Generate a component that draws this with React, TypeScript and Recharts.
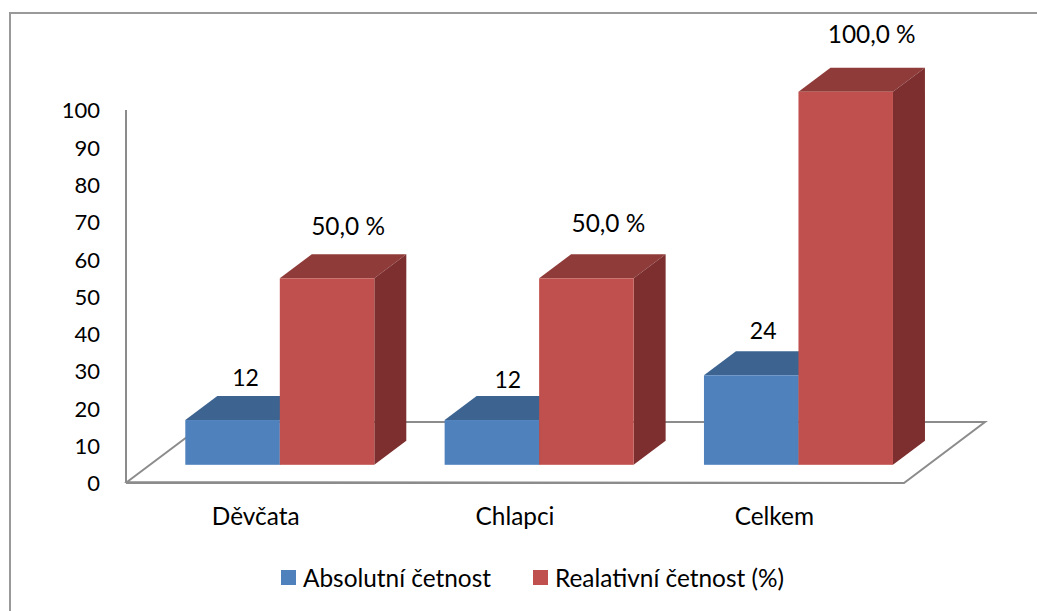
import { BarChart, Bar, XAxis, YAxis, Legend, LabelList, Customized } from 'recharts';

const categories = ['Děvčata', 'Chlapci', 'Celkem'];
const absolute = [12, 12, 24];
const relative = [50, 50, 100];
const yTicks = [0, 10, 20, 30, 40, 50, 60, 70, 80, 90, 100];

const chartData = categories.map((name, i) => ({ name, absolute: absolute[i], relative: relative[i] }));

const FONT = 'Lato, sans-serif';
const TICK_SIZE = 22;
const TEXT_SIZE = 24.4;
const GREY = '#8c8c8c';

// fake 3D: depth of the boxes and how far the front face sits from the axes
const DEPTH_X = 32;
const DEPTH_Y = 24;
const SHIFT_X = 24.3;
const SHIFT_Y = -18.2;

// label offsets from the top centre of each front face
const blueLabelOffset = [[13, -43], [16, -41], [12, -45]];
const redLabelOffset = [[21, -53], [22, -56], [26, -58]];

const faces: Record<string, { top: string; side: string }> = {
    '#4F81BD': { top: '#3D6491', side: '#2F4E72' },
    '#C0504D': { top: '#8F3B39', side: '#7C2F2E' },
};

const Box3D = ({ x, y, width, height, fill }: any) => {
    const left = x + SHIFT_X;
    const right = left + width;
    const top = y + SHIFT_Y;
    const bottom = top + height;
    const { top: topFill, side } = faces[fill];
    return (
        <g>
            <polygon
                points={`${left},${top} ${left + DEPTH_X},${top - DEPTH_Y} ${right + DEPTH_X},${top - DEPTH_Y} ${right},${top}`}
                fill={topFill}
            />
            <polygon
                points={`${right},${top} ${right + DEPTH_X},${top - DEPTH_Y} ${right + DEPTH_X},${bottom - DEPTH_Y} ${right},${bottom}`}
                fill={side}
            />
            <rect x={left} y={top} width={width} height={height} fill={fill} />
        </g>
    );
};

const Frame = () => (
    <g>
        <path d="M10 611 L10 13 L1037 13" fill="none" stroke="#999999" strokeWidth={2} />
        <polygon points="127,482 207,422 985,422 904,483" fill="#fff" stroke={GREY} strokeWidth={2} />
    </g>
);

const makeLabel = (offsets: number[][], size: number, format: (v: number) => string) => (props: any) => {
    const { x, y, width, value, index } = props;
    const [dx, dy] = offsets[index];
    return (
        <text
            x={x + width / 2 + SHIFT_X + dx}
            y={y + SHIFT_Y + dy}
            textAnchor="middle"
            dominantBaseline="central"
            fontFamily={FONT}
            fontSize={size}
            fill="#000"
        >
            {format(value)}
        </text>
    );
};

const LegendContent = ({ payload }: any) => (
    <div style={{ display: 'flex', justifyContent: 'center', gap: 42, fontFamily: FONT, fontSize: TEXT_SIZE, color: '#000' }}>
        {payload.map((entry: any) => (
            <div key={entry.value} style={{ display: 'flex', alignItems: 'center', gap: 7 }}>
                <span style={{ width: 15, height: 15, background: entry.color, display: 'inline-block' }} />
                {entry.value}
            </div>
        ))}
    </div>
);

export default function App() {
    return (
        <div style={{ position: 'absolute', left: 0, top: 0 }}>
            <BarChart
                width={1037}
                height={611}
                data={chartData}
                margin={{ top: 110, right: 133, bottom: 68, left: 0 }}
                barGap={0}
                barSize={94.5}
            >
                <Customized component={Frame} />
                <XAxis
                    dataKey="name"
                    height={60}
                    tickLine={false}
                    tickMargin={19}
                    axisLine={{ stroke: GREY, strokeWidth: 2 }}
                    tick={{ fill: '#000', fontFamily: FONT, fontSize: TEXT_SIZE }}
                />
                <YAxis
                    width={126}
                    domain={[0, 100]}
                    ticks={yTicks}
                    interval={0}
                    tickLine={false}
                    tickSize={0}
                    tickMargin={26}
                    axisLine={{ stroke: GREY, strokeWidth: 2 }}
                    tick={{ fill: '#000', fontFamily: FONT, fontSize: TICK_SIZE, dy: 0.5 }}
                />
                <Legend
                    layout="horizontal"
                    verticalAlign="middle"
                    align="center"
                    wrapperStyle={{ top: 563, left: 14, width: 1037 }}
                    content={LegendContent}
                />
                <Bar dataKey="absolute" name="Absolutní četnost" fill="#4F81BD" shape={Box3D} isAnimationActive={false}>
                    <LabelList dataKey="absolute" content={makeLabel(blueLabelOffset, 23, (v) => String(v))} />
                </Bar>
                <Bar dataKey="relative" name="Realativní četnost (%)" fill="#C0504D" shape={Box3D} isAnimationActive={false}>
                    <LabelList dataKey="relative" content={makeLabel(redLabelOffset, 24.4, (v) => `${v},0 %`)} />
                </Bar>
            </BarChart>
        </div>
    );
}
